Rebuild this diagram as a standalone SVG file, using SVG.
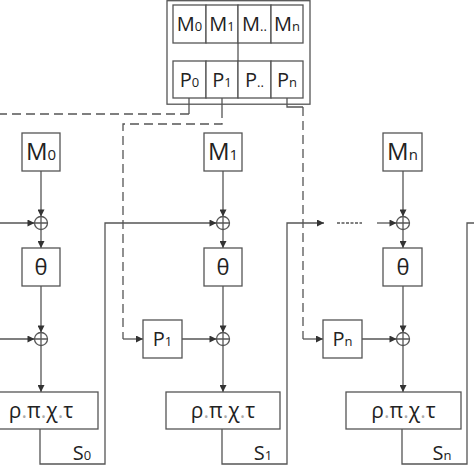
<svg xmlns="http://www.w3.org/2000/svg" width="474" height="474" viewBox="0 0 474 474">
<defs>
<marker id="ah" viewBox="0 0 10 10" refX="10" refY="5" markerWidth="8" markerHeight="7" markerUnits="userSpaceOnUse" orient="auto">
<path d="M0,0 L10,5 L0,10 z" fill="#333"/>
</marker>
<style>
.box{fill:#fff;stroke:#555;stroke-width:1.3}
.ln{fill:none;stroke:#555;stroke-width:1.3}
.ds{fill:none;stroke:#555;stroke-width:1.3;stroke-dasharray:9,5}
.ar{fill:none;stroke:#555;stroke-width:1.3;marker-end:url(#ah)}
.t{font-family:"Open Sans","Liberation Sans",sans-serif;fill:#222;text-anchor:middle}
.sub{font-size:13px}
.dot{fill:#aaa}
</style>
</defs>
<rect width="474" height="474" fill="#fff"/>
<g id="table">
<rect class="box" x="167" y="0.7" width="143" height="103.5"/>
<rect class="box" x="173" y="5" width="33" height="38"/>
<rect class="box" x="206" y="5" width="32" height="38"/>
<rect class="box" x="238" y="5" width="33" height="38"/>
<rect class="box" x="271" y="5" width="32" height="38"/>
<rect class="box" x="173" y="61" width="33" height="37"/>
<rect class="box" x="206" y="61" width="32" height="37"/>
<rect class="box" x="238" y="61" width="33" height="37"/>
<rect class="box" x="271" y="61" width="32" height="37"/>
<line class="ln" x1="238" y1="43" x2="238" y2="61"/>
<text class="t" x="189.5" y="31" font-size="20">M<tspan class="sub">0</tspan></text>
<text class="t" x="222" y="31" font-size="20">M<tspan class="sub">1</tspan></text>
<text class="t" x="254.5" y="31" font-size="20">M<tspan class="sub">..</tspan></text>
<text class="t" x="287" y="31" font-size="20">M<tspan class="sub">n</tspan></text>
<text class="t" x="189.5" y="87" font-size="20">P<tspan class="sub">0</tspan></text>
<text class="t" x="222" y="87" font-size="20">P<tspan class="sub">1</tspan></text>
<text class="t" x="254.5" y="87" font-size="20">P<tspan class="sub">..</tspan></text>
<text class="t" x="287" y="87" font-size="20">P<tspan class="sub">n</tspan></text>
</g>
<g id="connectors">
<polyline class="ln" points="189,98 189,114"/>
<line class="ds" x1="189" y1="114" x2="0" y2="114"/>
<polyline class="ln" points="222,98 222,109"/>
<polyline class="ds" points="222,109 222,124 123,124 123,339"/>
<polyline class="ln" points="287,98 287,107 303,107"/>
<polyline class="ds" points="303,107 303,339"/>
<line class="ar" x1="123" y1="339" x2="143" y2="339"/>
<line class="ar" x1="303" y1="339" x2="323" y2="339"/>
<line class="ar" x1="41" y1="171" x2="41" y2="216.5"/>
<line class="ar" x1="41" y1="229.5" x2="41" y2="248"/>
<line class="ar" x1="41" y1="286" x2="41" y2="332.5"/>
<line class="ar" x1="41" y1="345.5" x2="41" y2="392"/>
<line class="ar" x1="0" y1="223" x2="34.5" y2="223"/>
<line class="ar" x1="0" y1="339" x2="34.5" y2="339"/>
<polyline class="ar" points="40,429 40,464 105,464 105,223 216.5,223"/>
<line class="ar" x1="223" y1="171" x2="223" y2="216.5"/>
<line class="ar" x1="223" y1="229.5" x2="223" y2="248"/>
<line class="ar" x1="223" y1="286" x2="223" y2="332.5"/>
<line class="ar" x1="223" y1="345.5" x2="223" y2="392"/>
<line class="ar" x1="182" y1="339" x2="216.5" y2="339"/>
<polyline class="ar" points="222,429 222,464 287,464 287,223 324,223"/>
<line class="ln" x1="337" y1="223" x2="362" y2="223" stroke="#888" stroke-dasharray="3,1.5"/>
<line class="ar" x1="377" y1="223" x2="396.5" y2="223"/>
<line class="ar" x1="403" y1="171" x2="403" y2="216.5"/>
<line class="ar" x1="403" y1="229.5" x2="403" y2="248"/>
<line class="ar" x1="403" y1="286" x2="403" y2="332.5"/>
<line class="ar" x1="403" y1="345.5" x2="403" y2="392"/>
<line class="ar" x1="362" y1="339" x2="396.5" y2="339"/>
<polyline class="ln" points="402,429 402,464 467,464 467,223 474,223"/>
</g>
<g id="stage0">
<rect class="box" x="22" y="133" width="38" height="38"/>
<text class="t" x="41" y="160" font-size="24">M<tspan font-size="15">0</tspan></text>
<circle class="ln" cx="41" cy="223" r="6.5"/>
<path class="ln" d="M34.5,223 H47.5 M41,216.5 V229.5"/>
<rect class="box" x="22" y="248" width="38" height="38"/>
<text class="t" x="41" y="275" font-size="22">θ</text>
<circle class="ln" cx="41" cy="339" r="6.5"/>
<path class="ln" d="M34.5,339 H47.5 M41,332.5 V345.5"/>
<rect class="box" x="-16" y="392" width="114" height="37"/>
<text class="t" x="41" y="418" font-size="21">ρ<tspan class="dot">.</tspan>π<tspan class="dot">.</tspan>χ<tspan class="dot">.</tspan>τ</text>
<text class="t" x="82" y="460" font-size="20">S<tspan font-size="13">0</tspan></text>
</g>
<g id="stage1">
<rect class="box" x="204" y="133" width="38" height="38"/>
<text class="t" x="223" y="160" font-size="24">M<tspan font-size="15">1</tspan></text>
<circle class="ln" cx="223" cy="223" r="6.5"/>
<path class="ln" d="M216.5,223 H229.5 M223,216.5 V229.5"/>
<rect class="box" x="204" y="248" width="38" height="38"/>
<text class="t" x="223" y="275" font-size="22">θ</text>
<rect class="box" x="143" y="320" width="39" height="38"/>
<text class="t" x="162.5" y="346" font-size="20">P<tspan font-size="13">1</tspan></text>
<circle class="ln" cx="223" cy="339" r="6.5"/>
<path class="ln" d="M216.5,339 H229.5 M223,332.5 V345.5"/>
<rect class="box" x="166" y="392" width="114" height="37"/>
<text class="t" x="223" y="418" font-size="21">ρ<tspan class="dot">.</tspan>π<tspan class="dot">.</tspan>χ<tspan class="dot">.</tspan>τ</text>
<text class="t" x="263" y="460" font-size="20">S<tspan font-size="13">1</tspan></text>
</g>
<g id="stageN">
<rect class="box" x="383" y="133" width="39" height="38"/>
<text class="t" x="402.5" y="160" font-size="24">M<tspan font-size="15">n</tspan></text>
<circle class="ln" cx="403" cy="223" r="6.5"/>
<path class="ln" d="M396.5,223 H409.5 M403,216.5 V229.5"/>
<rect class="box" x="383" y="248" width="39" height="38"/>
<text class="t" x="403" y="275" font-size="22">θ</text>
<rect class="box" x="323" y="320" width="39" height="38"/>
<text class="t" x="342.5" y="346" font-size="20">P<tspan font-size="13">n</tspan></text>
<circle class="ln" cx="403" cy="339" r="6.5"/>
<path class="ln" d="M396.5,339 H409.5 M403,332.5 V345.5"/>
<rect class="box" x="346" y="392" width="115" height="37"/>
<text class="t" x="403.5" y="418" font-size="21">ρ<tspan class="dot">.</tspan>π<tspan class="dot">.</tspan>χ<tspan class="dot">.</tspan>τ</text>
<text class="t" x="442" y="460" font-size="20">S<tspan font-size="13">n</tspan></text>
</g>
</svg>
